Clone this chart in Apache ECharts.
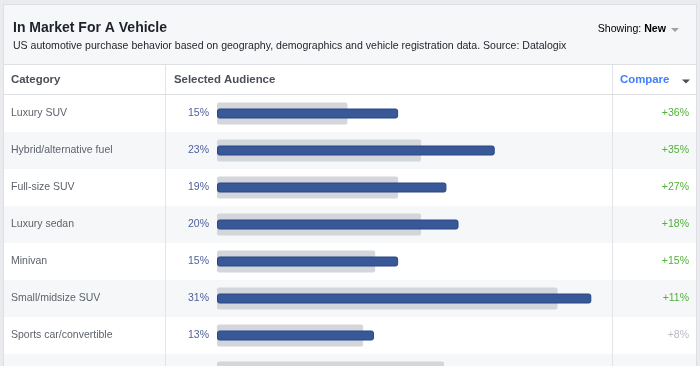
<!DOCTYPE html>
<html>
<head>
<meta charset="utf-8">
<script src="https://cdn.jsdelivr.net/npm/echarts@6/dist/echarts.min.js"></script>
<style>
html,body{margin:0;padding:0;background:#e9ebee;overflow:hidden;width:700px;height:366px;}
#c{width:700px;height:400px;}
</style>
</head>
<body>
<div id="c"></div>
<script>
// ---- data ----
const categories = ['Luxury SUV', 'Hybrid/alternative fuel', 'Full-size SUV', 'Luxury sedan', 'Minivan', 'Small/midsize SUV', 'Sports car/convertible', 'Compact car'];
const audience = [15, 23, 19, 20, 15, 31, 13, 21];          // selected audience (%)
const baseline = [10.8, 16.9, 15.0, 16.9, 13.1, 28.2, 12.1, 18.8]; // comparison baseline (%)
const compare = ['+36%', '+35%', '+27%', '+18%', '+15%', '+11%', '+8%', '+12%'];
const columnHeaders = ['Category', 'Selected Audience', 'Compare'];

const FONT = '"Liberation Sans", Arial, Helvetica, sans-serif';
const chart = echarts.init(document.getElementById('c'), null, {renderer: 'canvas'});

const option = {
  backgroundColor: '#e9ebee',
  animation: false,
  textStyle: {fontFamily: FONT},
  grid: [
    {left: 217, top: 95, width: 484, height: 296, containLabel: false},
    {left: 4, right: 4, top: 95, height: 296, containLabel: false}
  ],
  xAxis: [
    {type: 'value', gridIndex: 0, min: 0, max: 40, show: false},
    {type: 'value', gridIndex: 1, min: 0, max: 1, show: false}
  ],
  yAxis: [
    {type: 'category', gridIndex: 0, inverse: true, data: categories, show: false},
    {type: 'category', gridIndex: 1, inverse: true, data: categories, position: 'left',
      axisLine: {show: false}, axisTick: {show: false}, splitLine: {show: false},
      splitArea: {show: true, areaStyle: {color: ['#ffffff', '#f6f7f9']}},
      axisLabel: {inside: true, margin: 7, color: '#5d626b', fontSize: 10.5, fontFamily: FONT}
    },
    {type: 'category', gridIndex: 1, inverse: true, data: compare, position: 'right',
      axisLine: {show: false}, axisTick: {show: false}, splitLine: {show: false},
      axisLabel: {inside: true, margin: 7, fontSize: 10.5, fontFamily: FONT,
        color: function (v) { return parseFloat(v) >= 10 ? '#52b03a' : '#b9bdc4'; }}
    },
    {type: 'category', gridIndex: 0, inverse: true, data: categories, show: false}
  ],
  series: [
    {type: 'bar', xAxisIndex: 0, yAxisIndex: 0, data: baseline, barWidth: 22,
      itemStyle: {color: '#d3d6db', borderRadius: 2}, silent: true, z: 2},
    {type: 'bar', xAxisIndex: 0, yAxisIndex: 3, data: audience, barWidth: 10,
      itemStyle: {color: '#385898', borderColor: '#2a4785', borderWidth: 1, borderRadius: 2},
      label: {show: true, position: 'left', distance: 8, formatter: '{c}%',
        color: '#4f619a', fontSize: 10.5, fontFamily: FONT},
      silent: true, z: 3}
  ],
  graphic: [
    {type: 'rect', z: -10, silent: true, shape: {x: 3.5, y: 4.5, width: 693, height: 420},
      style: {fill: '#f6f7f9', stroke: '#dddfe2', lineWidth: 1}},
    {type: 'rect', z: -9, silent: true, shape: {x: 4, y: 65, width: 692, height: 29},
      style: {fill: '#ffffff'}},
    {type: 'line', z: 10, silent: true, shape: {x1: 4, y1: 64.5, x2: 696, y2: 64.5},
      style: {stroke: '#dddfe2', lineWidth: 1}},
    {type: 'line', z: 10, silent: true, shape: {x1: 4, y1: 94.5, x2: 696, y2: 94.5},
      style: {stroke: '#dddfe2', lineWidth: 1}},
    {type: 'line', z: 10, silent: true, shape: {x1: 165.5, y1: 65, x2: 165.5, y2: 400},
      style: {stroke: '#e3e4e8', lineWidth: 1}},
    {type: 'line', z: 10, silent: true, shape: {x1: 612.5, y1: 65, x2: 612.5, y2: 400},
      style: {stroke: '#e3e4e8', lineWidth: 1}},
    {type: 'text', z: 10, silent: true, style: {text: 'In Market For A Vehicle', x: 13, y: 28,
      textVerticalAlign: 'middle', font: 'bold 14px ' + FONT, fill: '#1d2129'}},
    {type: 'text', z: 10, silent: true, style: {text: 'US automotive purchase behavior based on geography, demographics and vehicle registration data. Source: Datalogix',
      x: 13, y: 46, textVerticalAlign: 'middle', font: '10.55px ' + FONT, fill: '#1d2129'}},
    {type: 'text', z: 10, silent: true, style: {text: '{a|Showing: }{b|New}', x: 666, y: 29,
      textAlign: 'right', textVerticalAlign: 'middle',
      rich: {a: {fontSize: 10.6, fontFamily: FONT, color: '#4b4f56'},
             b: {fontSize: 10.6, fontFamily: FONT, fontWeight: 'bold', color: '#1d2129'}}}},
    {type: 'polygon', z: 10, silent: true, shape: {points: [[671, 28], [679, 28], [675, 32]]},
      style: {fill: '#9ea2a9'}},
    {type: 'text', z: 10, silent: true, style: {text: columnHeaders[0], x: 11, y: 80,
      textVerticalAlign: 'middle', font: 'bold 11.4px ' + FONT, fill: '#4b4f56'}},
    {type: 'text', z: 10, silent: true, style: {text: columnHeaders[1], x: 174, y: 80,
      textVerticalAlign: 'middle', font: 'bold 11.4px ' + FONT, fill: '#4b4f56'}},
    {type: 'text', z: 10, silent: true, style: {text: columnHeaders[2], x: 620, y: 80,
      textVerticalAlign: 'middle', font: 'bold 11.4px ' + FONT, fill: '#4080ff'}},
    {type: 'polygon', z: 10, silent: true, shape: {points: [[682, 79.5], [690, 79.5], [686, 83.5]]},
      style: {fill: '#4b4f56'}}
  ]
};
chart.setOption(option);
</script>
</body>
</html>
